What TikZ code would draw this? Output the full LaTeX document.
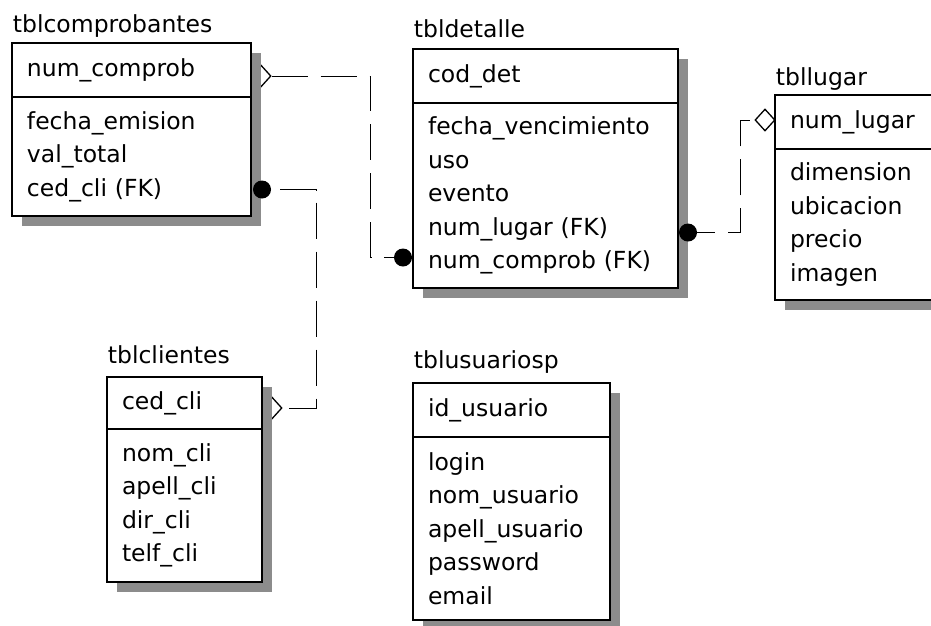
\documentclass[tikz,border=0pt]{standalone}
\usepackage{fontspec}
\setmainfont{DejaVu Sans}
\usetikzlibrary{positioning,shapes.geometric}
\pgfdeclarelayer{background}
\pgfsetlayers{background,main}

\begin{document}
\begin{tikzpicture}[x=1pt,y=-1pt,line width=1.8pt,
  every node/.style={font=\fontsize{23.5}{33.4}\selectfont},
  keybox/.style={draw,fill=white,anchor=north west,align=left,outer sep=0pt,inner xsep=15pt,inner ysep=0pt,minimum height=54pt,text width=#1},
  attbox/.style={draw,fill=white,align=left,outer sep=0pt,inner xsep=15pt,inner ysep=0pt,text width=#1},
  tbltitle/.style={anchor=base west,inner sep=0pt},
  fkdot/.style={circle,fill=black,inner sep=0pt,minimum size=18pt},
  pkdiam/.style={diamond,draw,fill=white,inner sep=0pt,aspect=0.9,minimum width=20pt,minimum height=22pt,line width=1.3pt},
  rel/.style={dash pattern=on 36pt off 13pt},
  shadow/.style={fill=black!45}]
  \useasboundingbox (0,0) rectangle (931,625);
  \clip (0,0) rectangle (931,625);

  % tables
  \node[keybox=209pt]                     (cmpk) at (12,43)        {num\_comprob};
  \node[attbox=209pt,minimum height=119pt] (cmpa) [below=0pt of cmpk] {fecha\_emision\\val\_total\\ced\_cli (FK)};
  \node[tbltitle]                         (cmpt) at ([yshift=11pt]cmpk.north west) {tblcomprobantes};

  \node[keybox=235pt]                     (detk) at (413,49)       {cod\_det};
  \node[attbox=235pt,minimum height=185pt] (deta) [below=0pt of detk] {fecha\_vencimiento\\uso\\evento\\num\_lugar (FK)\\num\_comprob (FK)};
  \node[tbltitle]                         (dett) at ([yshift=12pt]detk.north west) {tbldetalle};

  \node[keybox=145pt]                     (lugk) at (775,95)       {num\_lugar};
  \node[attbox=145pt,minimum height=151pt] (luga) [below=0pt of lugk] {dimension\\ubicacion\\precio\\imagen};
  \node[tbltitle]                         (lugt) at ([yshift=10pt]lugk.north west) {tbllugar};

  \node[keybox=125pt,minimum height=52pt] (clik) at (107,377)      {ced\_cli};
  \node[attbox=125pt,minimum height=153pt] (clia) [below=0pt of clik] {nom\_cli\\apell\_cli\\dir\_cli\\telf\_cli};
  \node[tbltitle]                         (clit) at ([yshift=14pt]clik.north west) {tblclientes};

  \node[keybox=167pt]                     (usuk) at (413,383)      {id\_usuario};
  \node[attbox=167pt,minimum height=183pt] (usua) [below=0pt of usuk] {login\\nom\_usuario\\apell\_usuario\\password\\email};
  \node[tbltitle]                         (usut) at ([yshift=15pt]usuk.north west) {tblusuariosp};

  % shadows, with the diamonds half under them
  \begin{pgfonlayer}{background}
    \node[pkdiam] (d1) at ([xshift=10pt,yshift=-6pt]cmpk.east) {};
    \node[pkdiam] (d2) at ([xshift=10pt,yshift=-5pt]clik.east) {};
    \fill[shadow] ([shift={(10pt,-10pt)}]cmpk.north west) rectangle ([shift={(10pt,-10pt)}]cmpa.south east);
    \fill[shadow] ([shift={(10pt,-10pt)}]detk.north west) rectangle ([shift={(10pt,-10pt)}]deta.south east);
    \fill[shadow] ([shift={(10pt,-10pt)}]lugk.north west) rectangle ([shift={(10pt,-10pt)}]luga.south east);
    \fill[shadow] ([shift={(10pt,-10pt)}]clik.north west) rectangle ([shift={(10pt,-10pt)}]clia.south east);
    \fill[shadow] ([shift={(10pt,-10pt)}]usuk.north west) rectangle ([shift={(10pt,-10pt)}]usua.south east);
  \end{pgfonlayer}
  \node[pkdiam] (d3) at ([xshift=-10pt,yshift=2pt]lugk.west) {};

  % foreign keys
  \node[fkdot] (p1) at ([xshift=11pt,yshift=-33pt]cmpa.east) {};
  \node[fkdot] (p2) at ([xshift=-10pt,yshift=-62pt]deta.west) {};
  \node[fkdot] (p3) at ([xshift=10pt,yshift=-37pt]deta.east) {};

  \draw[rel] (d1.east) -- ++(99,0) |- (p2);
  \draw[rel,dash phase=40pt] (p1) -- ++(54,0) |- (d2.east);
  \draw[rel,dash phase=18pt] (p3) -- ++(52,0) |- (d3.west);
\end{tikzpicture}
\end{document}
